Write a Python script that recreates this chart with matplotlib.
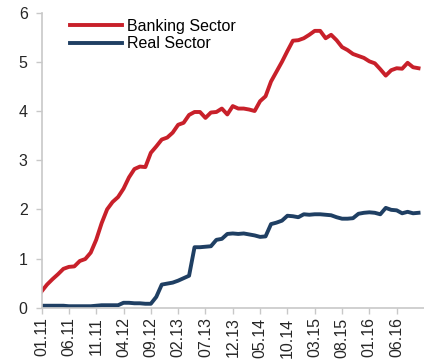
import matplotlib
matplotlib.use("Agg")
import matplotlib.pyplot as plt
import numpy as np

tick_labels = ["01.11", "06.11", "11.11", "04.12", "09.12", "02.13", "07.13",
               "12.13", "05.14", "10.14", "03.15", "08.15", "01.16", "06.16"]

banking = [0.33, 0.47, 0.58, 0.68, 0.79, 0.83, 0.84, 0.95, 0.99, 1.12,
           1.38, 1.72, 2.0, 2.15, 2.25, 2.42, 2.65, 2.82, 2.87, 2.86,
           3.15, 3.28, 3.42, 3.46, 3.56, 3.72, 3.76, 3.92, 3.98, 3.98,
           3.86, 3.97, 3.98, 4.05, 3.93, 4.1, 4.05, 4.05, 4.03, 4.0,
           4.2, 4.3, 4.6, 4.8, 5.0, 5.22, 5.43, 5.44, 5.48, 5.55,
           5.63, 5.63, 5.48, 5.55, 5.44, 5.3, 5.24, 5.16, 5.12, 5.08,
           5.01, 4.97, 4.85, 4.72, 4.83, 4.87, 4.86, 4.98, 4.89, 4.87]

real = [0.04, 0.04, 0.04, 0.04, 0.04, 0.03, 0.03, 0.03, 0.03, 0.03,
        0.04, 0.05, 0.05, 0.05, 0.05, 0.1, 0.1, 0.09, 0.09, 0.08,
        0.08, 0.22, 0.47, 0.49, 0.51, 0.55, 0.6, 0.65, 1.23, 1.23,
        1.24, 1.25, 1.38, 1.4, 1.5, 1.51, 1.5, 1.51, 1.49, 1.47,
        1.44, 1.45, 1.7, 1.73, 1.77, 1.87, 1.86, 1.84, 1.9, 1.89,
        1.9, 1.9, 1.89, 1.88, 1.84, 1.81, 1.81, 1.82, 1.91, 1.93,
        1.94, 1.93, 1.9, 2.03, 1.99, 1.98, 1.92, 1.95, 1.92, 1.93]

plt.rcParams['font.family'] = ['Liberation Sans', 'DejaVu Sans']

fig = plt.figure(figsize=(4.24, 3.62), dpi=100)
ax = fig.add_axes([0.098, 0.150, 0.902, 0.815])

x = np.arange(len(banking))
ax.plot(x, banking, color="#C8202A", lw=2.8, label="Banking Sector")
ax.plot(x, real, color="#1F3F63", lw=2.8, label="Real Sector")

ax.set_xlim(0, 70)
ax.set_ylim(0, 6)
ax.set_yticks(range(0, 7))
ax.set_xticks(np.arange(0, 5 * len(tick_labels), 5))
ax.set_xticklabels(tick_labels, rotation=90)

for s in ["top", "right"]:
    ax.spines[s].set_visible(False)
for s in ["left", "bottom"]:
    ax.spines[s].set_color("#C8C8C8")
    ax.spines[s].set_linewidth(1.2)
ax.tick_params(axis="both", colors="#C8C8C8", length=4, width=1.0,
               labelcolor="#262626", labelsize=11.5)
ax.tick_params(axis="y", pad=6)
ax.tick_params(axis="x", pad=3)

leg = ax.legend(loc="upper left", bbox_to_anchor=(0.057, 1.001), frameon=False,
                fontsize=11.5, handlelength=3.3, handletextpad=0.3,
                labelspacing=0.15, borderaxespad=0)

fig.savefig("out.png", dpi=100)
